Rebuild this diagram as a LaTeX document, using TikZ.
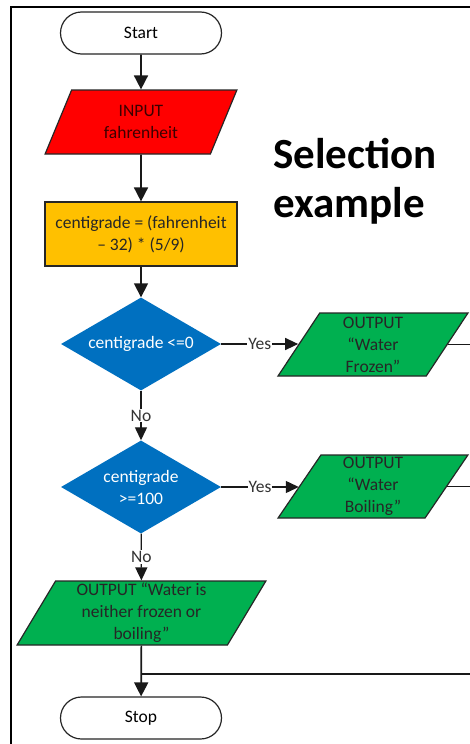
\documentclass[tikz,border=0pt]{standalone}
\usepackage{fontspec}
\setmainfont{Carlito}
\usetikzlibrary{shapes.geometric,shapes.misc,arrows.meta}
\definecolor{fcred}{HTML}{FF0000}
\definecolor{fcorange}{HTML}{FFC000}
\definecolor{fcblue}{HTML}{0070C0}
\definecolor{fcgreen}{HTML}{00B050}
\definecolor{outl}{HTML}{262626}
\tikzset{
  txt/.style={font=\fontsize{17.5}{22}\selectfont},
  term/.style={rounded rectangle, draw=outl, line width=1.2pt, fill=white,
    minimum width=161pt, minimum height=42pt, inner sep=0pt, txt},
  para/.style={trapezium, trapezium stretches=true, draw=outl, line width=1.2pt,
    inner sep=0pt, align=center, txt, text=black!85},
  procbox/.style={rectangle, draw=outl, line width=1.2pt, fill=fcorange,
    minimum width=192pt, minimum height=64pt, inner sep=0pt, align=center, txt, text=black!85},
  decision/.style={diamond, fill=fcblue, minimum width=160pt, minimum height=93pt,
    aspect=1.72, inner sep=0pt, align=center, txt, text=white},
  conn/.style={line width=1.7pt, draw=black!90, -{Triangle[length=14pt,width=14pt]}},
  thinconn/.style={line width=1.3pt, draw=black!90, -{Triangle[length=13pt,width=12pt]}},
  plain/.style={line width=1.3pt, draw=black!90},
  lbl/.style={fill=white, inner sep=1pt, txt, text=black!80},
  title/.style={font=\fontsize{43}{50}\bfseries\selectfont, anchor=base west, inner sep=0pt}
}
\begin{document}
\begin{tikzpicture}[x=1pt,y=-1pt]
\useasboundingbox (0,0) rectangle (470,744);
\clip (0,0) rectangle (470,744);
\fill[white] (0,0) rectangle (470,744);
\draw[line width=1.5pt, black] (11,760) -- (11,7) -- (490,7);

\node[term] (start) at (141,33) {Start};
\node[para, fill=fcred, text={rgb,255:red,60;green,0;blue,0}, trapezium left angle=67, trapezium right angle=113,
  minimum width=192pt, minimum height=64pt] (in) at (141,122) {INPUT\\fahrenheit};
\node[procbox] (proc) at (141,234) {centigrade = (fahrenheit\\ -- 32) * (5/9)};
\node[decision] (d1) at (141,344) {centigrade <=0};
\node[decision] (d2) at (141,487) {centigrade\\>=100};
\node[para, fill=fcgreen, trapezium left angle=67, trapezium right angle=113,
  minimum width=190pt, minimum height=63pt] (o1) at (373,344.5) {OUTPUT\\“Water\\Frozen”};
\node[para, fill=fcgreen, trapezium left angle=67, trapezium right angle=113,
  minimum width=190pt, minimum height=63pt] (o2) at (373,486.5) {OUTPUT\\“Water\\Boiling”};
\node[para, fill=fcgreen, trapezium left angle=64, trapezium right angle=116,
  minimum width=249pt, minimum height=64pt] (o3) at (141.5,613) {OUTPUT “Water is\\neither frozen or\\boiling”};
\node[term] (stop) at (141,718) {Stop};

\node[title] (t1) at (273,168) {Selection};
\node[title] (t2) at (273,217) {example};

\coordinate (j) at (141,674);
\coordinate (far) at (495,674);

\draw[conn] (start) -- (in);
\draw[conn] (in) -- (proc);
\draw[conn] (proc) -- (d1);
\draw[thinconn] (d1) -- node[lbl] {No} (d2);
\draw[thinconn] (d2) -- node[lbl] {No} (o3);
\draw[thinconn] (d1.east) -- node[lbl] {Yes} (d1.east -| o1.west);
\draw[thinconn] (d2.east) -- node[lbl] {Yes} (d2.east -| o2.west);
\draw[plain] (o1.east) -| (far);
\draw[plain] (o2.east) -| (far);
\draw[line width=1.7pt, draw=black!90] (far) -- (j);
\draw[conn] (o3) -- (stop);
\end{tikzpicture}
\end{document}
